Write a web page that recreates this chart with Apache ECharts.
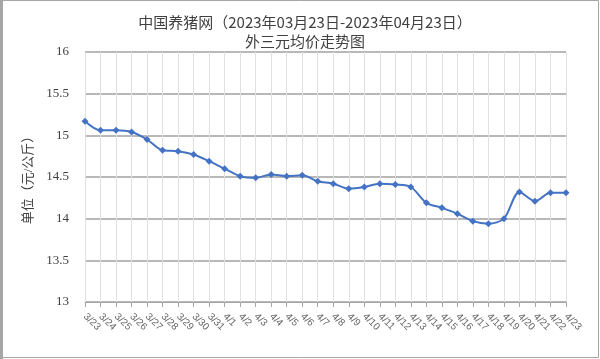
<!DOCTYPE html>
<html>
<head>
<meta charset="utf-8">
<script src="https://cdn.jsdelivr.net/npm/echarts@6/dist/echarts.min.js"></script>
<style>
html,body{margin:0;padding:0;background:#fff;}
#c{width:600px;height:359px;}
</style>
</head>
<body>
<div id="c"></div>
<script>
const categories = ['3/23','3/24','3/25','3/26','3/27','3/28','3/29','3/30','3/31','4/1','4/2','4/3','4/4','4/5','4/6','4/7','4/8','4/9','4/10','4/11','4/12','4/13','4/14','4/15','4/16','4/17','4/18','4/19','4/20','4/21','4/22','4/23'];
const prices = [15.17,15.06,15.06,15.04,14.95,14.82,14.81,14.77,14.69,14.60,14.51,14.49,14.53,14.51,14.52,14.45,14.42,14.36,14.38,14.42,14.41,14.38,14.19,14.13,14.06,13.97,13.94,14.00,14.32,14.21,14.31,14.31];
const titleLines = ['中国养猪网（2023年03月23日-2023年04月23日）','外三元均价走势图'];
const yAxisName = '单位（元/公斤）';

const serif = '"Liberation Serif","DejaVu Serif","Noto Sans CJK SC",serif';
const chart = echarts.init(document.getElementById('c'));
chart.setOption({
  animation: false,
  backgroundColor: '#ffffff',
  title: {
    text: titleLines.join('\n'),
    left: 300, top: 8, textAlign: 'center',
    textStyle: {fontSize: 15, fontWeight: 'normal', color: '#404040', lineHeight: 19, fontFamily: '"Noto Sans CJK SC",sans-serif'}
  },
  graphic: [
    {type: 'rect', shape: {x: 1, y: 0.5, width: 597.5, height: 357}, style: {fill: 'none', stroke: '#a6a6a6', lineWidth: 1}, z: 100},
    {type: 'line', shape: {x1: 1.5, y1: 0, x2: 1.5, y2: 359}, style: {stroke: '#a6a6a6', lineWidth: 3}, z: 100}
  ],
  grid: {left: 85, right: 34, top: 52, bottom: 57},
  xAxis: {
    type: 'category',
    data: categories,
    boundaryGap: false,
    axisLine: {show: true, lineStyle: {color: '#a6a6a6', width: 1}},
    axisTick: {show: true, length: 5, lineStyle: {color: '#a6a6a6'}},
    splitLine: {show: true, lineStyle: {color: '#e0e0e0', width: 1}},
    axisLabel: {rotate: -45, interval: 0, fontSize: 10, color: '#666', margin: 13, fontFamily: '"Liberation Sans",sans-serif'}
  },
  yAxis: {
    type: 'value',
    min: 13, max: 16, interval: 0.5,
    name: yAxisName,
    nameLocation: 'middle',
    nameGap: 44,
    nameRotate: 90,
    nameTextStyle: {fontSize: 13, color: '#404040', fontFamily: serif},
    axisLine: {show: false},
    axisTick: {show: false},
    splitLine: {show: true, lineStyle: {color: '#a0a0a0', width: 1.5}},
    axisLabel: {fontSize: 13, color: '#404040', margin: 16, fontFamily: serif}
  },
  series: [{
    type: 'line',
    data: prices,
    smooth: 0.3,
    symbol: 'diamond',
    symbolSize: 7,
    lineStyle: {color: '#4472c4', width: 2},
    itemStyle: {color: '#4472c4'}
  }]
});
</script>
</body>
</html>
